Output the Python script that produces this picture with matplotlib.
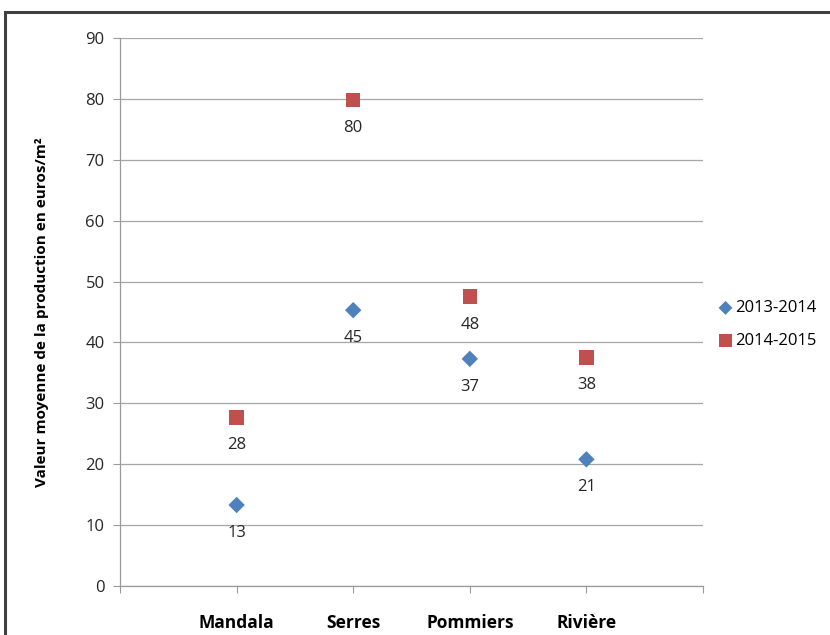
import matplotlib.pyplot as plt
from matplotlib.patches import Rectangle

# data
sites = ['Mandala', 'Serres', 'Pommiers', 'Rivière']
x_pos = [1, 2, 3, 4]
vals_2013 = [13.3, 45.3, 37.3, 20.8]
vals_2014 = [27.7, 79.8, 47.5, 37.5]
labels_2013 = ['13', '45', '37', '21']
labels_2014 = ['28', '80', '48', '38']

plt.rcParams['font.family'] = ['Open Sans', 'DejaVu Sans']

fig = plt.figure(figsize=(8.3, 6.35), dpi=100)
ax = fig.add_axes([0.1446, 0.0772, 0.7024, 0.863])

# outer frame of the chart area
fig.patches.append(Rectangle((5 / 830, -0.05), 1.0, 1.05 - 12 / 635,
                             transform=fig.transFigure, fill=False,
                             edgecolor='#404040', linewidth=2.2))

grey = '#9A9A9A'
ax.set_ylim(0, 90)
ax.set_xlim(0, 5)
ax.set_yticks(range(0, 91, 10))
ax.grid(True, axis='y', color='#A6A6A6', linewidth=0.9)
ax.set_axisbelow(True)
for side in ['top', 'right']:
    ax.spines[side].set_visible(False)
for side in ['left', 'bottom']:
    ax.spines[side].set_color(grey)
    ax.spines[side].set_linewidth(0.9)

# tick marks at 0..5, labels only on the categories
ax.set_xticks([0, 1, 2, 3, 4, 5])
ax.set_xticklabels([''] + sites + [''], fontweight='bold', fontsize=12.5)
ax.tick_params(axis='x', length=5, color=grey, pad=15)
ax.tick_params(axis='y', length=5, color=grey, labelsize=12, pad=6,
               labelcolor='#262626')

ax.scatter(x_pos, vals_2013, marker='D', s=70, color='#4F81BD',
           edgecolors='none', label='2013-2014', zorder=3)
ax.scatter(x_pos, vals_2014, marker='s', s=110, color='#C0504D',
           edgecolors='none', label='2014-2015', zorder=3)

for x, y, t in zip(x_pos, vals_2013, labels_2013):
    ax.annotate(t, (x, y), xytext=(0, -20), textcoords='offset points',
                ha='center', va='center', fontsize=12, color='#262626')
for x, y, t in zip(x_pos, vals_2014, labels_2014):
    ax.annotate(t, (x, y), xytext=(0, -20), textcoords='offset points',
                ha='center', va='center', fontsize=12, color='#262626')

ax.set_ylabel('Valeur moyenne de la production en euros/m²',
              fontweight='bold', fontsize=11, labelpad=26)

ax.legend(loc='center left', bbox_to_anchor=(1.01, 0.477), frameon=False,
          fontsize=12, handletextpad=0.0, handlelength=1.2, labelspacing=1.0,
          markerscale=0.85, borderaxespad=0)

fig.savefig('out.png', dpi=100)
